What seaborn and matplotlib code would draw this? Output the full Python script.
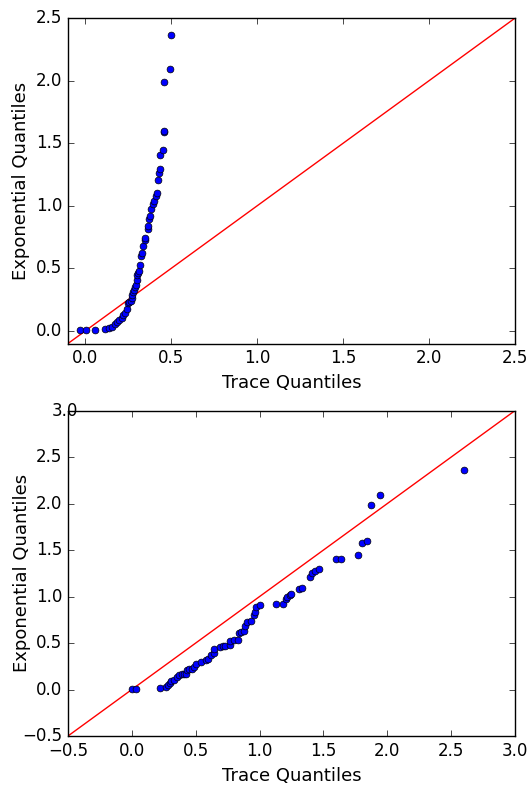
import matplotlib
matplotlib.use("Agg")
import matplotlib.pyplot as plt
import matplotlib.transforms as mtransforms
import seaborn as sns

# QQ data
# top panel: trace quantiles vs exponential quantiles
top_trace = [-0.029, 0.004, 0.055, 0.118, 0.137, 0.157, 0.176, 0.186, 0.196, 0.212,
             0.220, 0.231, 0.245, 0.249, 0.255, 0.265, 0.270, 0.275, 0.280, 0.284,
             0.290, 0.294, 0.300, 0.304, 0.310, 0.314, 0.320, 0.327, 0.333, 0.337,
             0.347, 0.350, 0.363, 0.367, 0.373, 0.376, 0.382, 0.392, 0.402, 0.412,
             0.418, 0.422, 0.427, 0.435, 0.437, 0.451, 0.457, 0.461, 0.461, 0.496,
             0.500]
top_exp = [0.005, 0.006, 0.010, 0.016, 0.027, 0.035, 0.053, 0.072, 0.088, 0.106,
           0.125, 0.146, 0.173, 0.220, 0.230, 0.240, 0.266, 0.290, 0.310, 0.330,
           0.350, 0.370, 0.410, 0.446, 0.460, 0.480, 0.530, 0.598, 0.625, 0.678,
           0.731, 0.740, 0.811, 0.838, 0.891, 0.918, 0.971, 1.011, 1.037, 1.077,
           1.104, 1.210, 1.263, 1.298, 1.404, 1.450, 1.588, 1.596, 1.987, 2.096,
           2.362]

# bottom panel
bottom_trace = [0.000, 0.030, 0.217, 0.270, 0.280, 0.295, 0.310, 0.327, 0.350, 0.370,
                0.390, 0.405, 0.426, 0.430, 0.450, 0.470, 0.490, 0.505, 0.543, 0.577,
                0.600, 0.620, 0.640, 0.643, 0.687, 0.713, 0.730, 0.766, 0.770, 0.797,
                0.830, 0.836, 0.857, 0.878, 0.883, 0.900, 0.930, 0.956, 0.967, 0.975,
                1.000, 1.126, 1.184, 1.205, 1.218, 1.236, 1.249, 1.307, 1.335, 1.398,
                1.411, 1.437, 1.463, 1.600, 1.640, 1.770, 1.800, 1.837, 1.876, 1.940,
                2.600]
bottom_exp = [0.005, 0.006, 0.014, 0.030, 0.047, 0.070, 0.090, 0.107, 0.130, 0.154,
              0.170, 0.170, 0.170, 0.215, 0.226, 0.226, 0.243, 0.270, 0.297, 0.315,
              0.333, 0.369, 0.394, 0.440, 0.458, 0.465, 0.465, 0.476, 0.523, 0.537,
              0.537, 0.609, 0.619, 0.627, 0.680, 0.727, 0.734, 0.798, 0.830, 0.888,
              0.906, 0.917, 0.917, 0.970, 0.995, 1.013, 1.031, 1.078, 1.096, 1.210,
              1.257, 1.271, 1.300, 1.403, 1.403, 1.450, 1.575, 1.593, 1.987, 2.095,
              2.356]

plt.style.use("classic")
plt.rcParams["savefig.facecolor"] = "white"
plt.rcParams["figure.facecolor"] = "white"

fig, axes = plt.subplots(2, 1, figsize=(5.31, 7.86), dpi=100)
fig.subplots_adjust(left=0.128, right=0.970, top=0.977, bottom=0.0636, hspace=0.206)

panels = [(axes[0], top_trace, top_exp, (-0.1, 2.5), -0.085),
          (axes[1], bottom_trace, bottom_exp, (-0.5, 3.0), -0.082)]

for ax, xs, ys, lim, ylab_x in panels:
    ax.plot([lim[0], lim[1]], [lim[0], lim[1]], color="red", linewidth=1)
    sns.scatterplot(x=xs, y=ys, ax=ax, color="b", edgecolor="k",
                    s=24, linewidth=0.5, zorder=3)
    ax.set_xlim(lim)
    ax.set_ylim(lim)
    ax.set_xlabel("Trace Quantiles", fontsize=13)
    ax.set_ylabel("Exponential Quantiles", fontsize=13)
    ax.yaxis.set_label_coords(ylab_x, 0.5)

# the "3.0" on the lower panel sits shifted right over the spine in the reference
fig.canvas.draw()
top_lbl = axes[1].get_yticklabels()[-1]
top_lbl.set_transform(top_lbl.get_transform() +
                      mtransforms.ScaledTranslation(0.16, 0, fig.dpi_scale_trans))

plt.savefig("out.png", dpi=100)
